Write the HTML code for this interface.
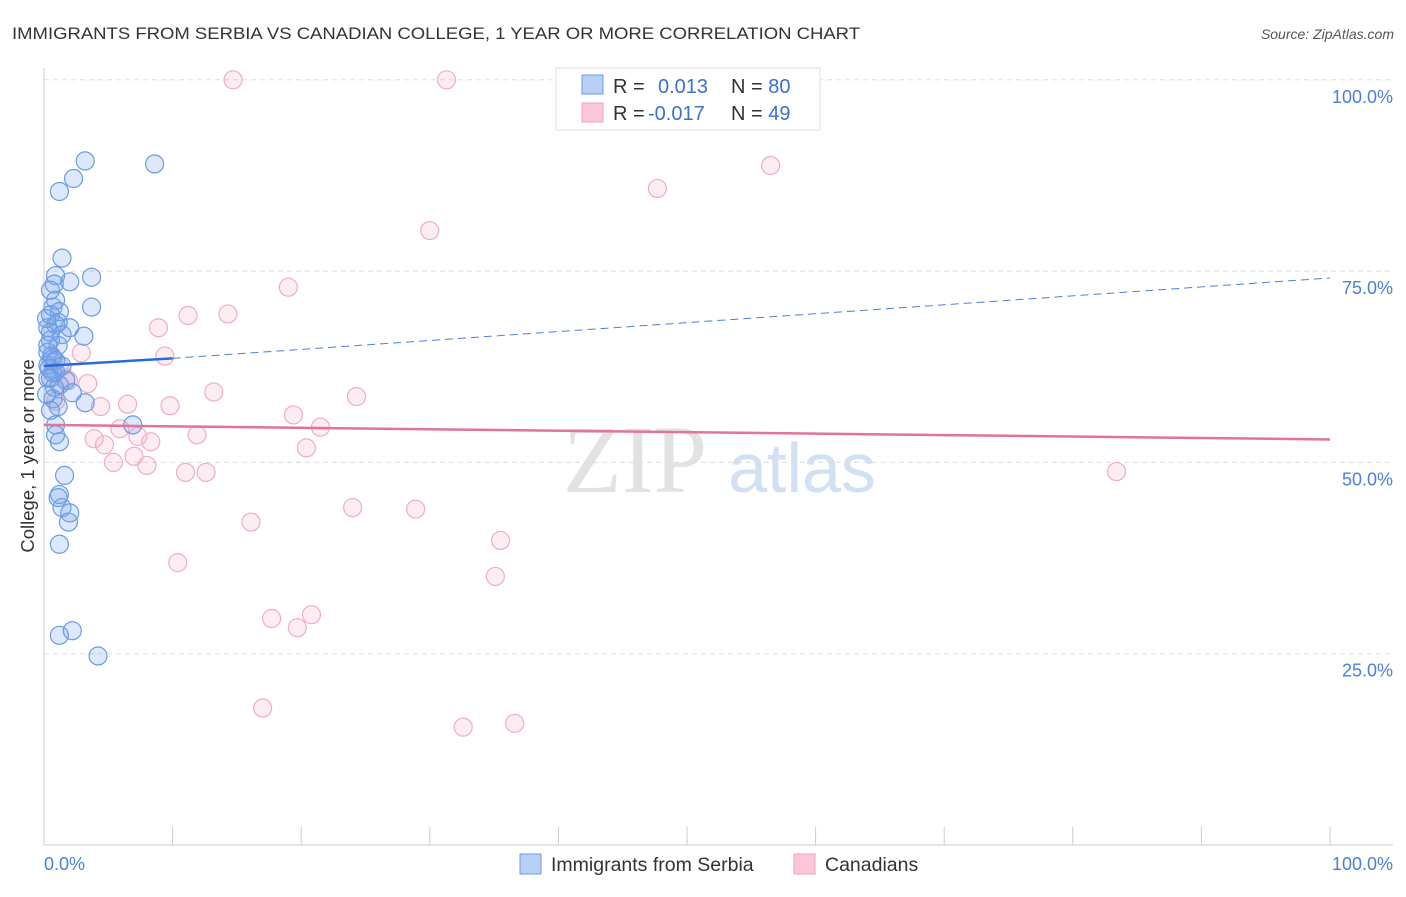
<!DOCTYPE html><html><head><meta charset="utf-8"><style>
body{margin:0;background:#fff;font-family:"Liberation Sans",sans-serif}
</style></head><body>
<svg id="c" width="1406" height="892" xmlns="http://www.w3.org/2000/svg" font-family="Liberation Sans, sans-serif">
<text x="12" y="39" font-size="17" fill="#333" textLength="848" lengthAdjust="spacingAndGlyphs">IMMIGRANTS FROM SERBIA VS CANADIAN COLLEGE, 1 YEAR OR MORE CORRELATION CHART</text>
<text x="1394" y="39" font-size="14" fill="#555" font-style="italic" text-anchor="end">Source: ZipAtlas.com</text>
<text x="635" y="492" font-size="96" fill="#e2e2e2" font-family="Liberation Serif,serif" text-anchor="middle">ZIP</text>
<text x="802" y="492" font-size="70" fill="#d2e0f4" text-anchor="middle">atlas</text>
<text transform="translate(34,456) rotate(-90)" font-size="18.5" fill="#333" text-anchor="middle">College, 1 year or more</text>
<g id="grid"></g><g id="marks"></g>
<g>
<rect x="556" y="68" width="264" height="62" fill="#fff" stroke="#ddd"/>
<rect x="582" y="75" width="21" height="19" fill="#b8d0f5" stroke="#6a9be0"/>
<rect x="582" y="103" width="21" height="19" fill="#fcc8d8" stroke="#eea0bb"/>
<text x="613" y="93" font-size="20" fill="#333">R = <tspan x="658" fill="#3a70d0">0.013</tspan><tspan x="731" fill="#333">N = </tspan><tspan fill="#3a70d0">80</tspan></text>
<text x="613" y="120" font-size="20" fill="#333">R = <tspan x="648" fill="#3a70d0">-0.017</tspan><tspan x="731" fill="#333">N = </tspan><tspan fill="#3a70d0">49</tspan></text>
</g>
<g>
<rect x="520" y="854" width="21" height="20" fill="#b8d0f5" stroke="#6a9be0"/>
<text x="551" y="871" font-size="19.5" fill="#333">Immigrants from Serbia</text>
<rect x="794" y="854" width="21" height="20" fill="#fcc8d8" stroke="#eea0bb"/>
<text x="825" y="871" font-size="19.5" fill="#333">Canadians</text>
</g>
</svg>
<script>
const yTicks=[25,50,75,100];
const xTicks=[0,10,20,30,40,50,60,70,80,90,100];
const blueX=[3.2,8.6,2.3,1.2,1.4,3.7,0.9,2.0,0.8,0.9,3.7,0.7,1.2,0.5,0.9,2.0,0.3,1.4,3.1,0.5,1.1,0.3,0.7,0.3,0.9,0.5,1.7,1.2,2.2,3.2,0.7,1.1,0.5,6.9,0.9,0.9,1.2,1.6,1.2,1.1,1.4,2.0,1.9,1.2,1.2,2.2,4.2,0.3,0.6,0.9,0.4,0.8,0.2,0.5,1.1,0.2,0.5,1.4,0.3,0.7];
const blueY=[89.4,89.0,87.1,85.4,76.7,74.2,74.4,73.6,73.3,71.2,70.3,70.3,69.7,69.3,68.0,67.6,67.6,66.7,66.5,66.0,65.3,64.4,63.6,62.7,61.8,61.0,60.7,60.1,59.1,57.8,58.3,57.3,56.8,54.9,54.9,53.6,52.7,48.3,45.8,45.4,44.1,43.4,42.2,39.3,27.4,28.0,24.7,65.3,63.9,63.3,62.3,59.8,58.9,67.0,68.3,68.8,72.5,62.6,61.0,61.7];
const pinkX=[14.7,31.3,56.5,47.7,30.0,19.0,8.9,11.2,14.3,9.4,2.9,1.2,1.7,3.4,13.2,24.3,4.4,6.5,9.8,19.4,21.5,3.9,5.9,7.3,8.3,11.9,20.4,4.7,7.0,5.4,8.0,11.0,12.6,83.4,24.0,28.9,16.1,35.5,10.4,35.1,17.7,20.8,19.7,17.0,32.6,36.6,0.9,1.9,0.5];
const pinkY=[100,100,88.8,85.8,80.3,72.9,67.6,69.2,69.4,63.9,64.3,62.6,61.0,60.3,59.2,58.6,57.3,57.6,57.4,56.2,54.6,53.1,54.4,53.4,52.7,53.6,51.9,52.3,50.8,50.0,49.6,48.7,48.7,48.8,44.1,43.9,42.2,39.8,36.9,35.1,29.6,30.1,28.4,17.9,15.4,15.9,58.0,60.7,63.4];
const blueTrend=[62.6,63.6,74.1];const pinkTrend=[54.9,53.0];
const X=v=>44+v*12.86, Y=v=>845-v*7.652;
const NS="http://www.w3.org/2000/svg";
function mk(t,a,p){const e=document.createElementNS(NS,t);for(const k in a)e.setAttribute(k,a[k]);p.appendChild(e);return e;}
const g=document.getElementById('grid'),m=document.getElementById('marks');
mk('line',{x1:44,y1:68,x2:44,y2:845,stroke:'#ccc'},g);
mk('line',{x1:44,y1:845,x2:1393,y2:845,stroke:'#ccc'},g);
yTicks.forEach(v=>{
const l=mk('line',{x1:44,y1:Y(v),x2:1393,y2:Y(v),stroke:'#ddd','stroke-dasharray':'5,4'},g);


const t=mk('text',{x:1393,y:Y(v)+23,'font-size':18,fill:'#4a80d8','text-anchor':'end'},g);t.textContent=v.toFixed(1)+'%';


});
xTicks.forEach(v=>{const l=mk('line',{x1:X(v),y1:827,x2:X(v),y2:845,stroke:'#ccc'},g);

});
[[0,'0.0%','start',44],[100,'100.0%','end',1393]].forEach(a=>{const t=mk('text',{x:a[3],y:870,'font-size':18,fill:'#4a80d8','text-anchor':a[2]},g);t.textContent=a[1];

});
pinkX.forEach((x,i)=>{const c=mk('circle',{cx:X(x),cy:Y(pinkY[i]),r:9,fill:'rgba(248,175,200,0.22)',stroke:'#efadc4','stroke-width':1.2},m);

});
blueX.forEach((x,i)=>{const c=mk('circle',{cx:X(x),cy:Y(blueY[i]),r:9,fill:'rgba(120,165,235,0.25)',stroke:'#6a9be3','stroke-width':1.2},m);

});
let l=mk('line',{x1:X(0),y1:Y(blueTrend[0]),x2:X(10),y2:Y(blueTrend[1]),stroke:'#2a6ad8','stroke-width':2.5},m);


l=mk('line',{x1:X(10),y1:Y(blueTrend[1]),x2:X(100),y2:Y(blueTrend[2]),stroke:'#4a80d8','stroke-width':1,'stroke-dasharray':'8,5'},m);


l=mk('line',{x1:X(0),y1:Y(pinkTrend[0]),x2:X(100),y2:Y(pinkTrend[1]),stroke:'#e2739a','stroke-width':2.5},m);


</script>
</body></html>
